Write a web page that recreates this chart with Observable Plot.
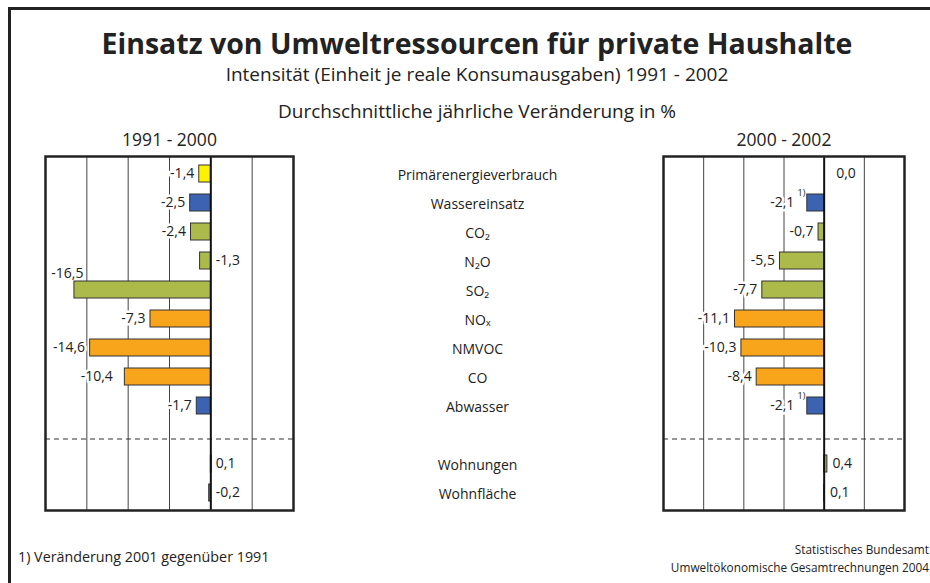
<!DOCTYPE html>
<html>
<head>
<meta charset="utf-8">
<script src="https://cdn.jsdelivr.net/npm/d3@7"></script>
<script src="https://cdn.jsdelivr.net/npm/@observablehq/plot@0.6"></script>
<style>
  body { margin: 0; background: #fff; }
  #chart { position: relative; width: 930px; height: 583px; overflow: hidden; background: #fff;
           font-family: "Open Sans", sans-serif; color: #222; }
  .bl { position: absolute; left: 8px; top: 7px; width: 3px; height: 600px; background: #222; }
  .bt { position: absolute; left: 8px; top: 7px; width: 940px; height: 3px; background: #222; }
  .t { position: absolute; white-space: nowrap; line-height: 1; }
  .c { left: 0; width: 954px; text-align: center; }
  .r { right: 1px; text-align: right; }
  .plot { position: absolute; top: 120px; }
</style>
</head>
<body>
<div id="chart">
  <div class="bl"></div>
  <div class="bt"></div>
  <div class="t c" style="top:29px;font-size:28.5px;font-weight:700;">Einsatz von Umweltressourcen für private Haushalte</div>
  <div class="t c" style="top:65px;font-size:19px;">Intensität (Einheit je reale Konsumausgaben) 1991 - 2002</div>
  <div class="t c" style="top:102px;font-size:19px;">Durchschnittliche jährliche Veränderung in %</div>
  <div class="t" style="left:18px;top:550px;font-size:14.3px;">1) Veränderung 2001 gegenüber 1991</div>
  <div class="t r" style="top:544px;font-size:11.8px;">Statistisches Bundesamt</div>
  <div class="t r" style="top:562px;font-size:11.8px;">Umweltökonomische Gesamtrechnungen 2004</div>
  <div id="left" class="plot" style="left:0px;"></div>
  <div id="right" class="plot" style="left:620px;"></div>
</div>
<script>
// ---- data ----
const categories = ["Primärenergieverbrauch", "Wassereinsatz", "CO₂", "N₂O", "SO₂", "NOₓ", "NMVOC", "CO", "Abwasser", "Wohnungen", "Wohnfläche"];
const groups = ["Energie", "Wasser", "Luft", "Luft", "Luft", "Ozon", "Ozon", "Ozon", "Wasser", "Wohnungen", "Fläche"];
const change1991_2000 = [-1.4, -2.5, -2.4, -1.3, -16.5, -7.3, -14.6, -10.4, -1.7, 0.1, -0.2];
const change2000_2002 = [0.0, -2.1, -0.7, -5.5, -7.7, -11.1, -10.3, -8.4, -2.1, 0.4, 0.1];
const footnote2000_2002 = [false, true, false, false, false, false, false, false, true, false, false];
const periods = ["1991 - 2000", "2000 - 2002"];
const gridTicks = [-15, -10, -5, 5];
const xDomain = [-20, 10];
const separatorAfter = "Abwasser";

// ---- helpers ----
const groupDomain = ["Energie", "Wasser", "Luft", "Ozon", "Wohnungen", "Fläche"];
const groupColors = ["#fff200", "#3b63b1", "#abba4a", "#f8a51c", "#b3aa68", "#7a7a7a"];
const sepIndex = categories.indexOf(separatorAfter) + 1;
const rowDomain = [...categories.slice(0, sepIndex), " ", ...categories.slice(sepIndex)];
const fmt = v => v.toFixed(1).replace(".", ",");
const halo = {stroke: "white", strokeWidth: 5, paintOrder: "stroke", fill: "#222", fontSize: 14};

function makeTable(values, notes) {
  return categories.map((c, i) => ({cat: c, value: values[i], group: groups[i], note: notes ? notes[i] : false}));
}

function base(table, labelMarks, extra, opts) {
  return Plot.plot({
    width: opts.width, height: 400,
    marginTop: 36, marginBottom: 10, marginLeft: opts.ml, marginRight: opts.mr,
    style: {fontFamily: "Open Sans, sans-serif", fontSize: "14px", color: "#222", background: "transparent", overflow: "visible"},
    x: {domain: xDomain, axis: null},
    y: {type: "band", domain: rowDomain, paddingInner: 0.42, paddingOuter: 0.21, axis: null},
    color: {domain: groupDomain, range: groupColors},
    marks: [
      Plot.ruleX(gridTicks, {stroke: "#444", strokeWidth: 1}),
      Plot.ruleY([" "], {stroke: "#333", strokeWidth: 1.2, strokeDasharray: "5,4", dy: 4}),
      ...labelMarks,
      Plot.barX(table, {x: "value", y: "cat", fill: "group", stroke: "#333", strokeWidth: 1}),
      Plot.ruleX([0], {stroke: "#111", strokeWidth: 2}),
      Plot.frame({stroke: "#222", strokeWidth: 2.5}),
      Plot.text([opts.title], {frameAnchor: "top", dy: -23, fontSize: 17.5, fill: "#222"}),
      ...extra
    ]
  });
}

// ---- left panel ----
const leftTable = makeTable(change1991_2000);
const rightOfZeroLeft = d => d.value >= -0.5 || d.cat === "N₂O";
const leftLabels = [
  Plot.text(leftTable.filter(d => !rightOfZeroLeft(d) && d.cat !== "SO₂" && d.cat !== "CO"),
    {x: "value", y: "cat", text: d => fmt(d.value), textAnchor: "end", dx: -5, ...halo}),
  Plot.text(leftTable.filter(d => d.cat === "CO"),
    {x: "value", y: "cat", text: d => fmt(d.value), textAnchor: "end", dx: -12, ...halo}),
  Plot.text(leftTable.filter(d => d.cat === "SO₂"),
    {x: "value", y: "cat", text: d => fmt(d.value), textAnchor: "end", dx: 9, dy: -16, ...halo}),
  Plot.text(leftTable.filter(rightOfZeroLeft),
    {x: 0, y: "cat", text: d => fmt(d.value), textAnchor: "start", dx: 5, ...halo})
];
const catAxis = Plot.axisY({anchor: "right", tickSize: 0, tickPadding: 0, dx: 184, dy: 2,
  textAnchor: "middle", fontSize: 14, label: null, fill: "#222", tickFormat: d => d});
document.getElementById("left").append(
  base(leftTable, leftLabels, [catAxis], {width: 560, ml: 45, mr: 267, title: periods[0]})
);

// ---- right panel ----
const rightTable = makeTable(change2000_2002, footnote2000_2002);
const rightLabels = [
  Plot.text(rightTable.filter(d => d.value === 0),
    {x: 0, y: "cat", text: d => fmt(d.value), textAnchor: "start", dx: 12, ...halo}),
  Plot.text(rightTable.filter(d => d.value > 0),
    {x: "value", y: "cat", text: d => fmt(d.value), textAnchor: "start", dx: 5, ...halo}),
  Plot.text(rightTable.filter(d => d.value < 0 && !d.note),
    {x: "value", y: "cat", text: d => fmt(d.value), textAnchor: "end", dx: -5, ...halo}),
  Plot.text(rightTable.filter(d => d.value < 0 && d.note),
    {x: "value", y: "cat", text: d => fmt(d.value), textAnchor: "end", dx: -13, ...halo}),
  Plot.text(rightTable.filter(d => d.note),
    {x: "value", y: "cat", text: () => "1)", textAnchor: "end", dx: -2, dy: -10, ...halo, fontSize: 9, strokeWidth: 2})
];
document.getElementById("right").append(
  base(rightTable, rightLabels, [], {width: 310, ml: 43, mr: 26, title: periods[1]})
);
</script>
</body>
</html>
